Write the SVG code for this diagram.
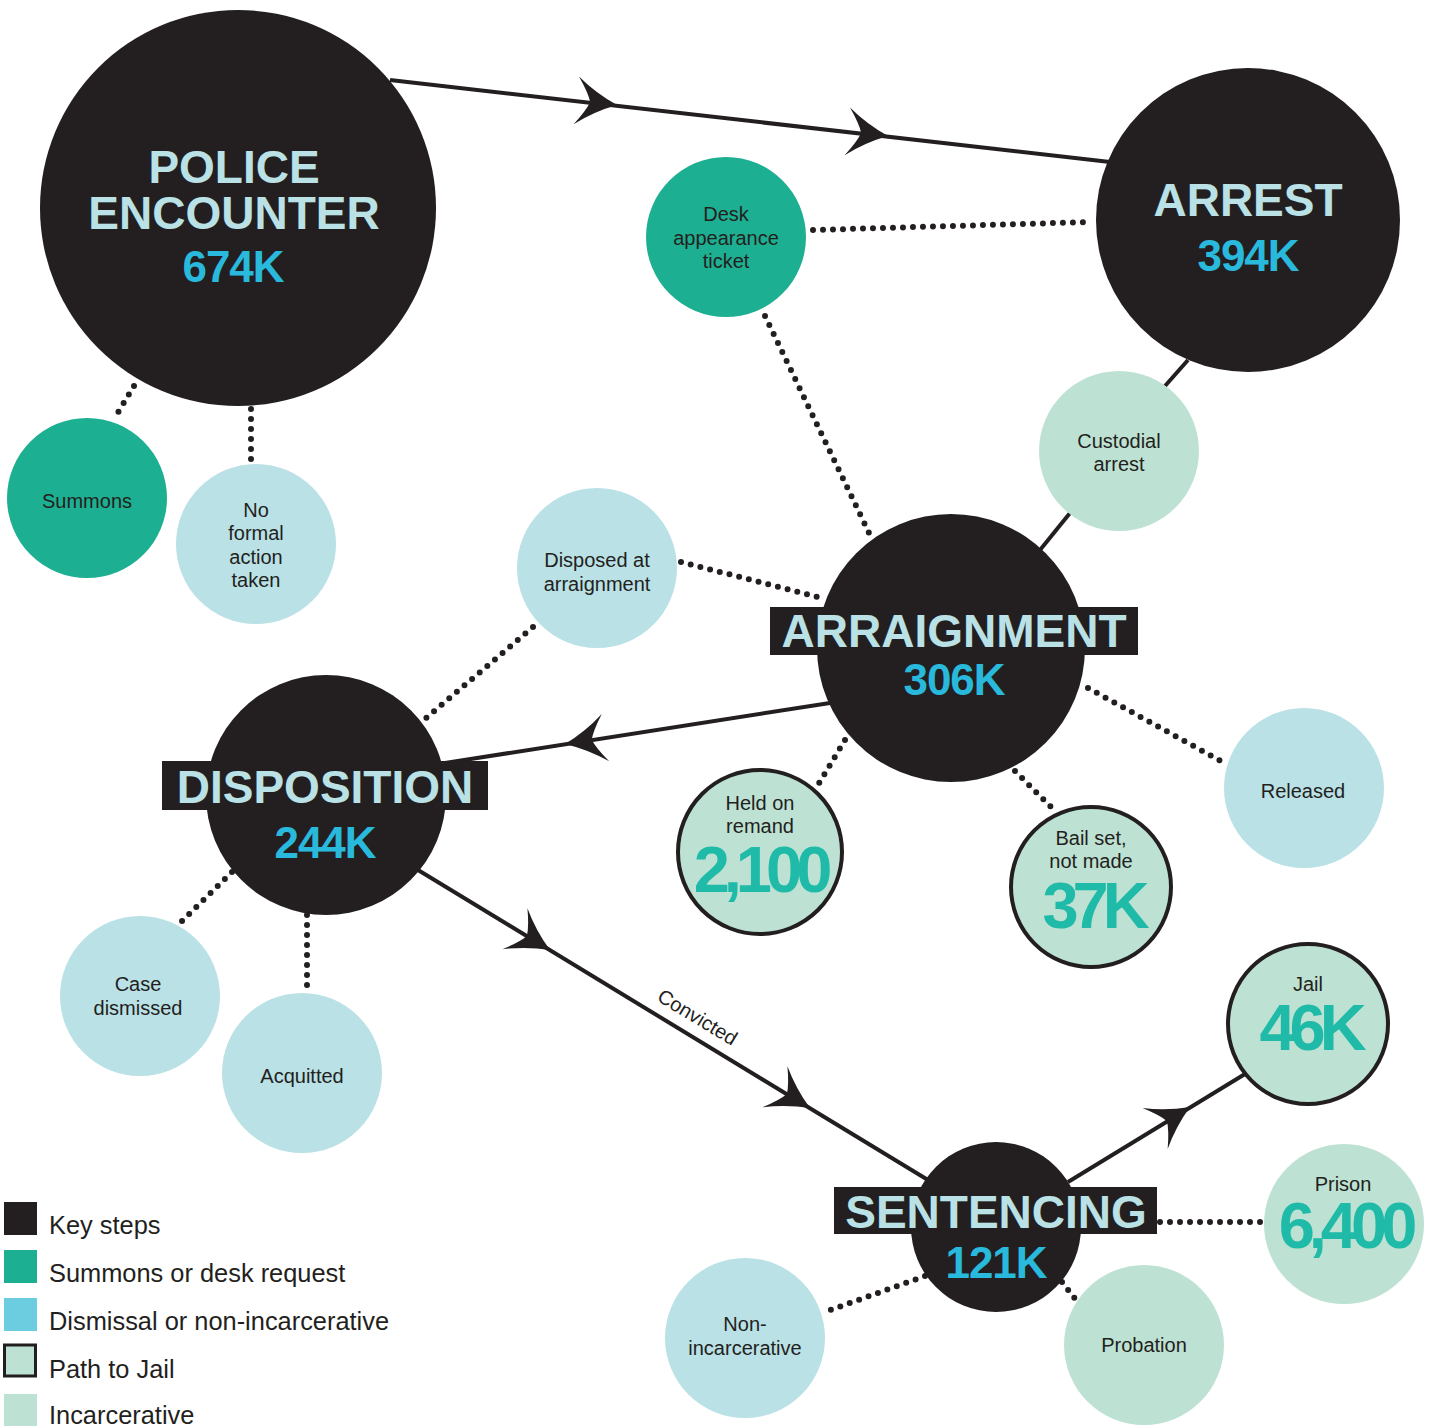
<svg xmlns="http://www.w3.org/2000/svg" width="1439" height="1426" viewBox="0 0 1439 1426">
<defs>
<style>
.key{fill:#231f20}
.teal{fill:#1daf91}
.blue{fill:#b9e1e6}
.green{fill:#bde2d3}
.jail{fill:#bde2d3;stroke:#231f20;stroke-width:4}
.solid{stroke:#231f20;stroke-width:4;fill:none}
.dot{stroke:#231f20;stroke-width:6;stroke-linecap:round;stroke-dasharray:0 10;fill:none}
.big{font-family:"Liberation Sans",Arial,sans-serif;font-weight:bold;font-size:46px;fill:#b9e1e6;text-anchor:middle}
.num{font-family:"Liberation Sans",Arial,sans-serif;font-weight:bold;font-size:44px;fill:#29b9dc;text-anchor:middle;letter-spacing:-1px}
.sm{font-family:"Liberation Sans",Arial,sans-serif;font-size:20px;fill:#231f20;text-anchor:middle}
.jn{font-family:"Liberation Sans",Arial,sans-serif;font-weight:bold;font-size:65px;fill:#20bba8;text-anchor:middle;letter-spacing:-6px}
.leg{font-family:"Liberation Sans",Arial,sans-serif;font-size:25.4px;fill:#231f20}
</style>
<path id="ah" d="M0,0 Q-22,-9 -41,-24 Q-30,-9 -27,0 Q-30,9 -41,24 Q-22,9 0,0 Z" fill="#231f20"/>
</defs>
<rect width="1439" height="1426" fill="#ffffff"/>
<g id="connectors">
<line class="solid" x1="390" y1="80" x2="1110" y2="162"/>
<use href="#ah" transform="translate(617,105) rotate(6.5)"/>
<use href="#ah" transform="translate(888,136) rotate(6.5)"/>
<line class="solid" x1="1188" y1="360" x2="1165" y2="386"/>
<line class="solid" x1="1070" y1="513" x2="1040" y2="550"/>
<line class="solid" x1="830" y1="703" x2="445" y2="763"/>
<use href="#ah" transform="translate(565,744) rotate(171.1)"/>
<line class="solid" x1="418" y1="870" x2="928" y2="1180"/>
<use href="#ah" transform="translate(550,950) rotate(31.3)"/>
<use href="#ah" transform="translate(810,1108) rotate(31.3)"/>
<line class="solid" x1="1068" y1="1182" x2="1245" y2="1074"/>
<use href="#ah" transform="translate(1190,1107) rotate(-31.6)"/>
<text class="sm" transform="translate(694,1023) rotate(31.3)">Convicted</text>
<line class="dot" x1="134" y1="386" x2="114" y2="419"/>
<line class="dot" x1="251" y1="409" x2="251" y2="461"/>
<line class="dot" x1="813" y1="230" x2="1091" y2="222"/>
<line class="dot" x1="765" y1="316" x2="871" y2="537"/>
<line class="dot" x1="681" y1="562" x2="822" y2="598"/>
<line class="dot" x1="533" y1="627" x2="425" y2="719"/>
<line class="dot" x1="845" y1="740" x2="815" y2="790"/>
<line class="dot" x1="1015" y1="771" x2="1055" y2="811"/>
<line class="dot" x1="1088" y1="688" x2="1228" y2="765"/>
<line class="dot" x1="232" y1="872" x2="178" y2="925"/>
<line class="dot" x1="307" y1="915" x2="307" y2="990"/>
<line class="dot" x1="1160" y1="1222" x2="1262" y2="1222"/>
<line class="dot" x1="925" y1="1276" x2="822" y2="1313"/>
<line class="dot" x1="1062" y1="1282" x2="1076" y2="1300"/>
</g>
<g id="police">
<circle class="key" cx="238" cy="208" r="198"/>
<text class="big" x="234" y="183">POLICE</text>
<text class="big" x="234" y="229">ENCOUNTER</text>
<text class="num" x="233" y="282">674K</text>
</g>
<g id="arrest">
<circle class="key" cx="1248" cy="220" r="152"/>
<text class="big" x="1248" y="216">ARREST</text>
<text class="num" x="1248" y="271">394K</text>
</g>
<g id="desk">
<circle class="teal" cx="726" cy="237" r="80"/>
<text class="sm" x="726" y="221">Desk</text>
<text class="sm" x="726" y="245">appearance</text>
<text class="sm" x="726" y="268">ticket</text>
</g>
<g id="summons">
<circle class="teal" cx="87" cy="498" r="80"/>
<text class="sm" x="87" y="508">Summons</text>
</g>
<g id="noformal">
<circle class="blue" cx="256" cy="544" r="80"/>
<text class="sm" x="256" y="517">No</text>
<text class="sm" x="256" y="540">formal</text>
<text class="sm" x="256" y="564">action</text>
<text class="sm" x="256" y="587">taken</text>
</g>
<g id="custodial">
<circle class="green" cx="1119" cy="451" r="80"/>
<text class="sm" x="1119" y="448">Custodial</text>
<text class="sm" x="1119" y="471">arrest</text>
</g>
<g id="disposed">
<circle class="blue" cx="597" cy="568" r="80"/>
<text class="sm" x="597" y="567">Disposed at</text>
<text class="sm" x="597" y="591">arraignment</text>
</g>
<g id="arraignment">
<circle class="key" cx="951" cy="648" r="134"/>
<rect class="key" x="770" y="607" width="368" height="48"/>
<text class="big" x="954" y="647">ARRAIGNMENT</text>
<text class="num" x="954" y="695">306K</text>
</g>
<g id="released">
<circle class="blue" cx="1304" cy="788" r="80"/>
<text class="sm" x="1303" y="798">Released</text>
</g>
<g id="held">
<circle class="jail" cx="760" cy="852" r="82"/>
<text class="sm" x="760" y="810">Held on</text>
<text class="sm" x="760" y="833">remand</text>
<text class="jn" x="760" y="892">2,100</text>
</g>
<g id="bail">
<circle class="jail" cx="1091" cy="887" r="80"/>
<text class="sm" x="1091" y="845">Bail set,</text>
<text class="sm" x="1091" y="868">not made</text>
<text class="jn" x="1093" y="928">37K</text>
</g>
<g id="disposition">
<circle class="key" cx="326" cy="795" r="120"/>
<rect class="key" x="162" y="761" width="326" height="49"/>
<text class="big" x="325" y="803">DISPOSITION</text>
<text class="num" x="325" y="858">244K</text>
</g>
<g id="dismissed">
<circle class="blue" cx="140" cy="996" r="80"/>
<text class="sm" x="138" y="991">Case</text>
<text class="sm" x="138" y="1015">dismissed</text>
</g>
<g id="acquitted">
<circle class="blue" cx="302" cy="1073" r="80"/>
<text class="sm" x="302" y="1083">Acquitted</text>
</g>
<g id="jailnode">
<circle class="jail" cx="1308" cy="1024" r="80"/>
<text class="sm" x="1308" y="991">Jail</text>
<text class="jn" x="1310" y="1050">46K</text>
</g>
<g id="sentencing">
<circle class="key" cx="996" cy="1227" r="85"/>
<rect class="key" x="834" y="1187" width="323" height="47"/>
<text class="big" x="996" y="1228">SENTENCING</text>
<text class="num" x="996" y="1278">121K</text>
</g>
<g id="prison">
<circle class="green" cx="1344" cy="1224" r="80"/>
<text class="sm" x="1343" y="1191">Prison</text>
<text class="jn" x="1345" y="1248">6,400</text>
</g>
<g id="noninc">
<circle class="blue" cx="745" cy="1338" r="80"/>
<text class="sm" x="745" y="1331">Non-</text>
<text class="sm" x="745" y="1355">incarcerative</text>
</g>
<g id="probation">
<circle class="green" cx="1144" cy="1345" r="80"/>
<text class="sm" x="1144" y="1352">Probation</text>
</g>
<g id="legend">
<rect x="4" y="1202" width="33" height="33" fill="#231f20"/>
<text class="leg" x="49" y="1234">Key steps</text>
<rect x="4" y="1250" width="33" height="33" fill="#1daf91"/>
<text class="leg" x="49" y="1282">Summons or desk request</text>
<rect x="4" y="1298" width="33" height="33" fill="#6dcde0"/>
<text class="leg" x="49" y="1330">Dismissal or non-incarcerative</text>
<rect x="4.5" y="1345" width="31" height="31" fill="#bde2d3" stroke="#231f20" stroke-width="3"/>
<text class="leg" x="49" y="1378">Path to Jail</text>
<rect x="4" y="1394" width="33" height="33" fill="#bde2d3"/>
<text class="leg" x="49" y="1424">Incarcerative</text>
</g>
</svg>
